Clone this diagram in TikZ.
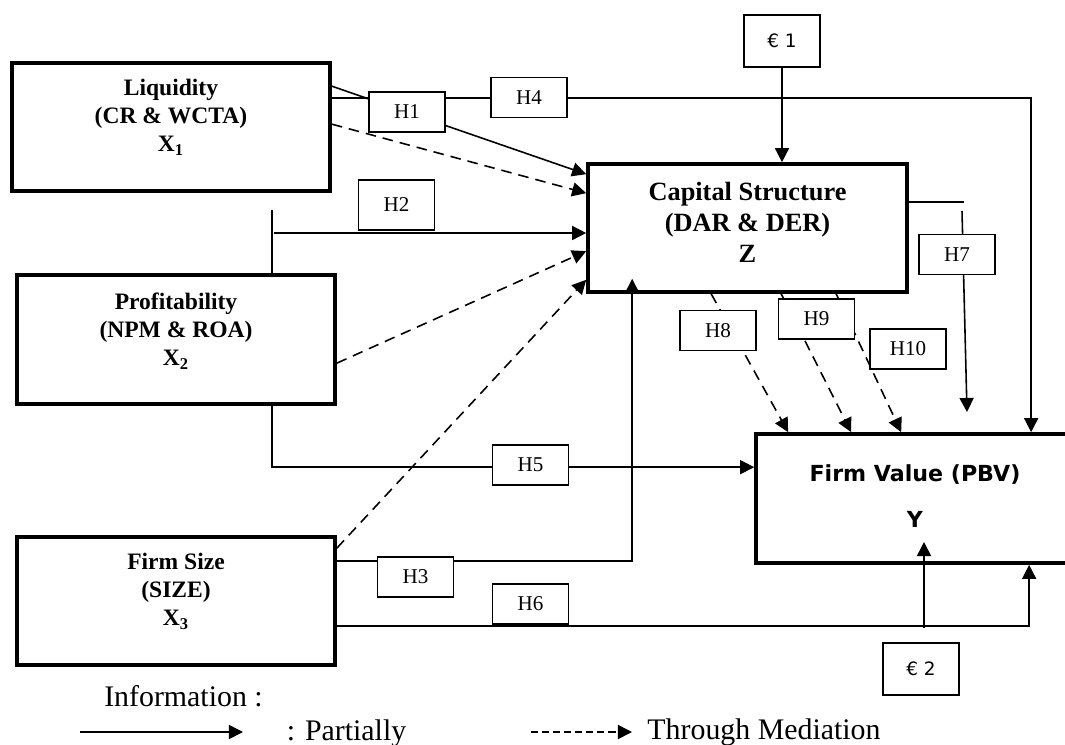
\documentclass[tikz,border=0pt]{standalone}
\usepackage{fontspec}
\setmainfont{Liberation Serif}
\newfontfamily\gothic{DejaVu Sans}
\usetikzlibrary{arrows.meta}

\begin{document}
\begin{tikzpicture}[x=0.02cm,y=-0.02cm,
  varbox/.style={draw,line width=2.1pt,minimum width=6.36cm,minimum height=2.56cm,inner sep=0pt},
  vartext/.style={font=\bfseries\fontsize{13.4}{15.9}\selectfont,align=center,inner sep=0pt},
  hbox/.style={draw,fill=white,line width=1pt,minimum width=1.52cm,minimum height=0.8cm,inner sep=0pt,font=\fontsize{12}{14}\selectfont},
  errbox/.style={draw,fill=white,line width=1pt,minimum width=1.52cm,minimum height=1.04cm,inner sep=0pt,font=\gothic\fontsize{10.5}{13}\selectfont},
  link/.style={line width=0.9pt},
  medlink/.style={line width=0.9pt,dash pattern=on 6pt off 4pt},
  arr/.style={-{Triangle[length=8pt,width=8pt]}},
  legtext/.style={font=\fontsize{17}{20}\selectfont,inner sep=0pt,anchor=base}]
\useasboundingbox (0,0) rectangle (1065,744);
\node[varbox] (X1) at (171,127) {};
\node[vartext] at ([yshift=0.19cm]X1.center) {Liquidity\\(CR \& WCTA)\\X\textsubscript{1}};
\node[varbox,minimum height=2.58cm] (X2) at (176,339.5) {};
\node[vartext] at ([yshift=0.17cm]X2.center) {Profitability\\(NPM \& ROA)\\X\textsubscript{2}};
\node[varbox] (X3) at (176,601) {};
\node[vartext] at ([yshift=0.19cm]X3.center) {Firm Size\\(SIZE)\\X\textsubscript{3}};
\node[varbox,minimum width=6.38cm] (Z) at (747.5,228) {};
\node[vartext,font=\bfseries\fontsize{15}{17.6}\selectfont] at ([yshift=0.12cm]Z.center) {Capital Structure\\(DAR \& DER)\\Z};
\node[varbox,minimum width=6.88cm,minimum height=2.58cm] (Y) at (928,498.5) {};
\node[font=\gothic\bfseries\fontsize{12.6}{15}\selectfont,align=center,inner sep=0pt] at (915,496) {Firm Value (PBV)\\[11pt]Y};
\node[errbox] (e1) at (782,41) {€ 1};
\node[errbox] (e2) at (921,669) {€ 2};
\coordinate (x2h) at (274,233);
\coordinate (e2in) at (924,628);
\coordinate (h7top) at (962,211);
\coordinate (h7end) at (967,412);
\draw[link,arr] ([yshift=-0.5cm]X1.north east) -- ([yshift=-0.24cm]Z.north west);
\draw[link,arr] ([yshift=-0.74cm]X1.north east) -| ([xshift=5.54cm]Y.north west);
\draw[medlink,arr] ([yshift=-1.26cm]X1.north east) -- ([yshift=-0.62cm]Z.north west);
\draw[link] ([xshift=5.14cm]X2.north west) -- ++(0,-63);
\draw[link,arr] (x2h) -- (x2h -| Z.west);
\draw[medlink,arr] ([yshift=-1.8cm]X2.north east) -- ([yshift=-1.78cm]Z.north west);
\draw[link,arr] ([xshift=5.14cm]X2.south west) |- ([yshift=-0.7cm]Y.north west);
\draw[medlink,arr] ([yshift=-0.26cm]X3.north east) -- ([yshift=0.28cm]Z.south west);
\draw[link,arr] ([yshift=-0.52cm]X3.north east) -| ([xshift=0.92cm,yshift=0.3cm]Z.south west);
\draw[link,arr] ([yshift=-1.82cm]X3.north east) -| ([xshift=5.5cm]Y.south west);
\draw[link,arr] (e2in) -- ++(0,-86);
\draw[link,arr] (e1.south) -- (e1.south |- Z.north);
\draw[link] ([yshift=-0.8cm]Z.north east) -- ++(55,0);
\draw[link,arr] (h7top) -- (h7end);
\draw[medlink,arr] ([xshift=2.5cm]Z.south west) -- ([xshift=0.68cm]Y.north west);
\draw[medlink,arr] ([xshift=3.9cm]Z.south west) -- ([xshift=1.94cm]Y.north west);
\draw[medlink,arr] ([xshift=5cm]Z.south west) -- ([xshift=2.94cm]Y.north west);
\node[hbox] (h1) at (407,112) {H1};
\node[hbox,minimum height=1cm] (h2) at (396.5,205) {H2};
\node[hbox] (h3) at (415.5,577) {H3};
\node[hbox] (h4) at (529,97.5) {H4};
\node[hbox] (h5) at (530.5,465) {H5};
\node[hbox] (h6) at (530.5,604) {H6};
\node[hbox] (h7) at (957,254.5) {H7};
\node[hbox] (h8) at (718,330.5) {H8};
\node[hbox] (h9) at (816.5,319) {H9};
\node[hbox] (h10) at (908,349) {H10};
\node[legtext] (info) at (183.5,706) {Information :};
\coordinate (ls1) at (80,732);
\coordinate (ls2) at (243,732);
\draw[link,arr] (ls1) -- (ls2);
\node[legtext] (part) at (346.5,740) {: Partially};
\coordinate (ld1) at (531,732);
\coordinate (ld2) at (632,732);
\draw[link,dash pattern=on 4pt off 2.3pt,arr] (ld1) -- (ld2);
\node[legtext] (med) at (764,739) {Through Mediation};
\end{tikzpicture}
\end{document}
